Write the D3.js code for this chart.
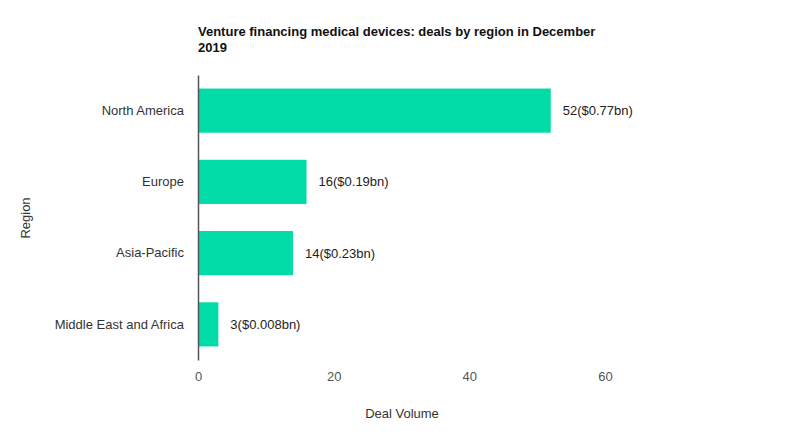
<!DOCTYPE html>
<html><head><meta charset="utf-8">
<script src="https://cdn.jsdelivr.net/npm/d3@7"></script>
<style>body{margin:0;background:#fff;font-family:Arial,"Liberation Sans",sans-serif;}</style>
</head><body><svg id="c" width="800" height="436"></svg>
<script>
const categories = ["North America","Europe","Asia-Pacific","Middle East and Africa"];
const dealVolume = [52,16,14,3];
const dealLabels = ["52($0.77bn)","16($0.19bn)","14($0.23bn)","3($0.008bn)"];
const xTicks = [0,20,40,60];

const svg = d3.select("#c");
const x = d3.scaleLinear().domain([0,60]).range([198,605]);
const y = d3.scaleBand().domain(categories).range([75,360]).paddingInner(0.38).paddingOuter(0.19);
const FS = 13;

svg.append("text").attr("x",198).attr("y",36).attr("font-size",FS).attr("font-weight","bold").attr("fill","#111").text("Venture financing medical devices: deals by region in December");
svg.append("text").attr("x",198).attr("y",52).attr("font-size",FS).attr("font-weight","bold").attr("fill","#111").text("2019");

svg.selectAll("rect.bar").data(categories).enter().append("rect")
  .attr("x",x(0)).attr("y",d=>y(d)).attr("height",y.bandwidth())
  .attr("width",(d,i)=>x(dealVolume[i])-x(0)).attr("fill","#00dba7");

svg.selectAll("text.val").data(categories).enter().append("text")
  .attr("x",(d,i)=>x(dealVolume[i])+12).attr("y",d=>y(d)+y.bandwidth()/2).attr("dy","0.35em")
  .attr("font-size",FS).attr("fill","#222").text((d,i)=>dealLabels[i]);

const ya = svg.append("g").attr("transform","translate(198,0)").call(d3.axisLeft(y).tickSize(0).tickPadding(14));
ya.select(".domain").attr("stroke","#555").attr("stroke-width",1.5);
ya.selectAll("text").attr("font-size",FS).attr("fill","#333").attr("font-family","Arial,'Liberation Sans',sans-serif");

const xa = svg.append("g").attr("transform","translate(0,364)").call(d3.axisBottom(x).tickValues(xTicks).tickSize(0).tickPadding(8));
xa.select(".domain").remove();
xa.selectAll("text").attr("font-size",FS).attr("fill","#555").attr("font-family","Arial,'Liberation Sans',sans-serif");

svg.append("text").attr("x",402).attr("y",418).attr("text-anchor","middle").attr("font-size",FS).attr("fill","#333").text("Deal Volume");
svg.append("text").attr("transform","translate(30,218) rotate(-90)").attr("text-anchor","middle").attr("font-size",FS).attr("fill","#333").text("Region");
</script></body></html>
